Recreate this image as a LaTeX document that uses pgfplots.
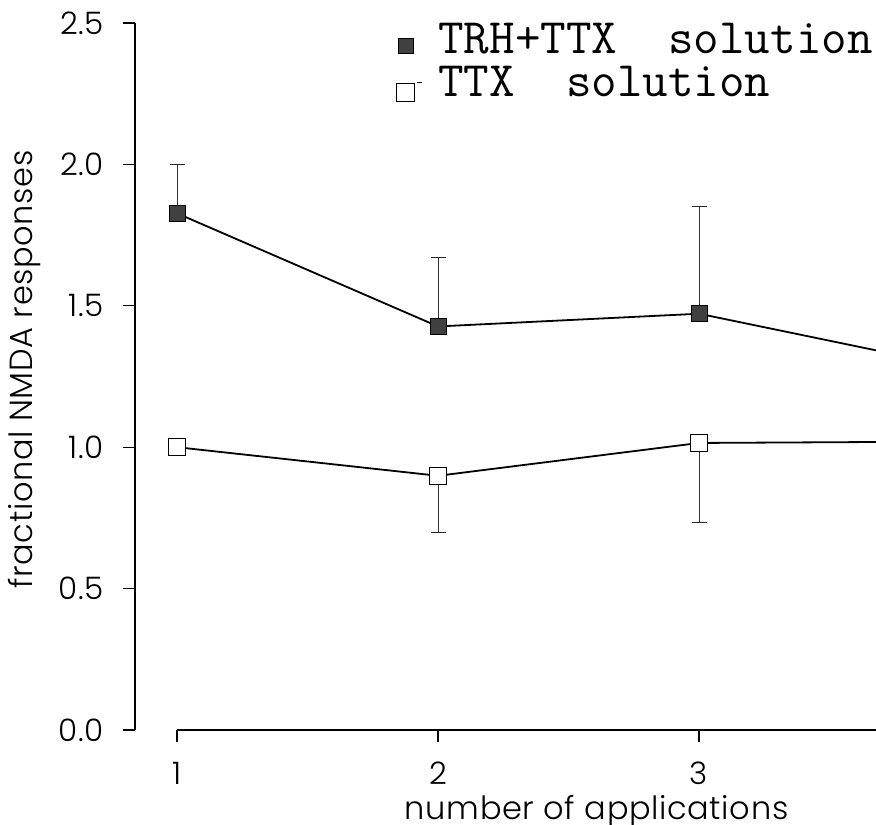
\documentclass[border=0pt]{standalone}
\usepackage{fontspec}
\usepackage{pgfplots}
\pgfplotsset{compat=1.18}
\IfFontExistsTF{Poppins Light}
  {\newfontfamily\geo{Poppins Light}[LetterSpace=2]}
  {\newfontfamily\geo{Poppins}[LetterSpace=2]}

\definecolor{markgray}{gray}{0.25}

\begin{document}
\begin{tikzpicture}[x=1pt,y=1pt]
% fixed page frame around the axis box
\path[use as bounding box] (-67.5,-47) rectangle (370.5,365);
\begin{axis}[
  at={(0,0)}, anchor=south west,
  scale only axis, width=370.5pt, height=353.5pt,
  xmin=0.839, xmax=3.678, ymin=0, ymax=2.5,
  axis y line*=left, axis x line*=bottom,
  x axis line style={draw=none},
  y axis line style={line width=0.75pt},
  xtick={1,2,3}, ytick={0,0.5,1,1.5,2,2.5},
  yticklabel style={/pgf/number format/fixed, /pgf/number format/fixed zerofill,
    /pgf/number format/precision=1, xshift=-6pt},
  xticklabel style={yshift=-6.5pt},
  /pgf/number format/assume math mode=true,
  tick align=outside, major tick length=6pt,
  tick style={black, line width=0.6pt},
  tick label style={font=\geo\fontsize{15.5}{15.5}\selectfont},
  xlabel={number of applications},
  ylabel={fractional NMDA responses},
  label style={font=\geo\fontsize{16}{16}\selectfont},
  xlabel style={at={(axis description cs:0.623,0)}, anchor=base, yshift=-44.5pt},
  ylabel style={at={([xshift=-51pt]axis description cs:0,0.51)}, anchor=base, rotate=0},
  legend style={at={(axis description cs:0.352,1.0)}, anchor=north west,
    draw=none, fill=none, inner sep=0pt, row sep=1.5pt, column sep=8pt,
    font=\ttfamily\fontsize{24.8}{24.8}\selectfont,
    nodes={inner sep=0pt, text height=15pt, text depth=5pt}},
  legend cell align=left,
  error bars/y explicit,
  error bars/error bar style={black!80, line width=0.5pt},
  error bars/error mark options={rotate=90, black!85, mark size=3.75pt, line width=0.6pt},
]
% TRH+TTX solution (error bars point upward)
\addplot[black, line width=0.9pt, mark=square*, mark size=4pt,
  mark options={fill=markgray, draw=black, line width=0.4pt},
  error bars/y dir=plus,
  legend image code/.code={
    \draw[fill=markgray, draw=black, line width=0.4pt] (-3.75pt,-5pt) rectangle (3.75pt,2.5pt);}]
  coordinates {
    (1,1.827) +- (0,0.173)
    (2,1.427) +- (0,0.243)
    (3,1.472) +- (0,0.378)
    (4,1.281) +- (0,0)
  };
\addlegendentry{TRH+TTX\ \ solution}
% TTX solution (error bars point downward)
\addplot[black, line width=0.9pt, mark=square*, mark size=4.25pt,
  mark options={fill=white, draw=black, line width=0.6pt},
  error bars/y dir=minus,
  legend image code/.code={
    \draw[fill=white, draw=black, line width=0.6pt] (-4.5pt,-7.5pt) rectangle (4.5pt,1.5pt);
    \draw[line width=0.6pt] (5.5pt,2pt) -- (8pt,2pt);}]
  coordinates {
    (1,1.0) +- (0,0)
    (2,0.899) +- (0,0.202)
    (3,1.015) +- (0,0.281)
    (4,1.02) +- (0,0)
  };
\addlegendentry{TTX\ \ solution}
% detached x axis line starting at the first tick
\draw[line width=0.75pt] (axis cs:1,0) -- (axis cs:3.678,0);
\end{axis}
\end{tikzpicture}
\end{document}
